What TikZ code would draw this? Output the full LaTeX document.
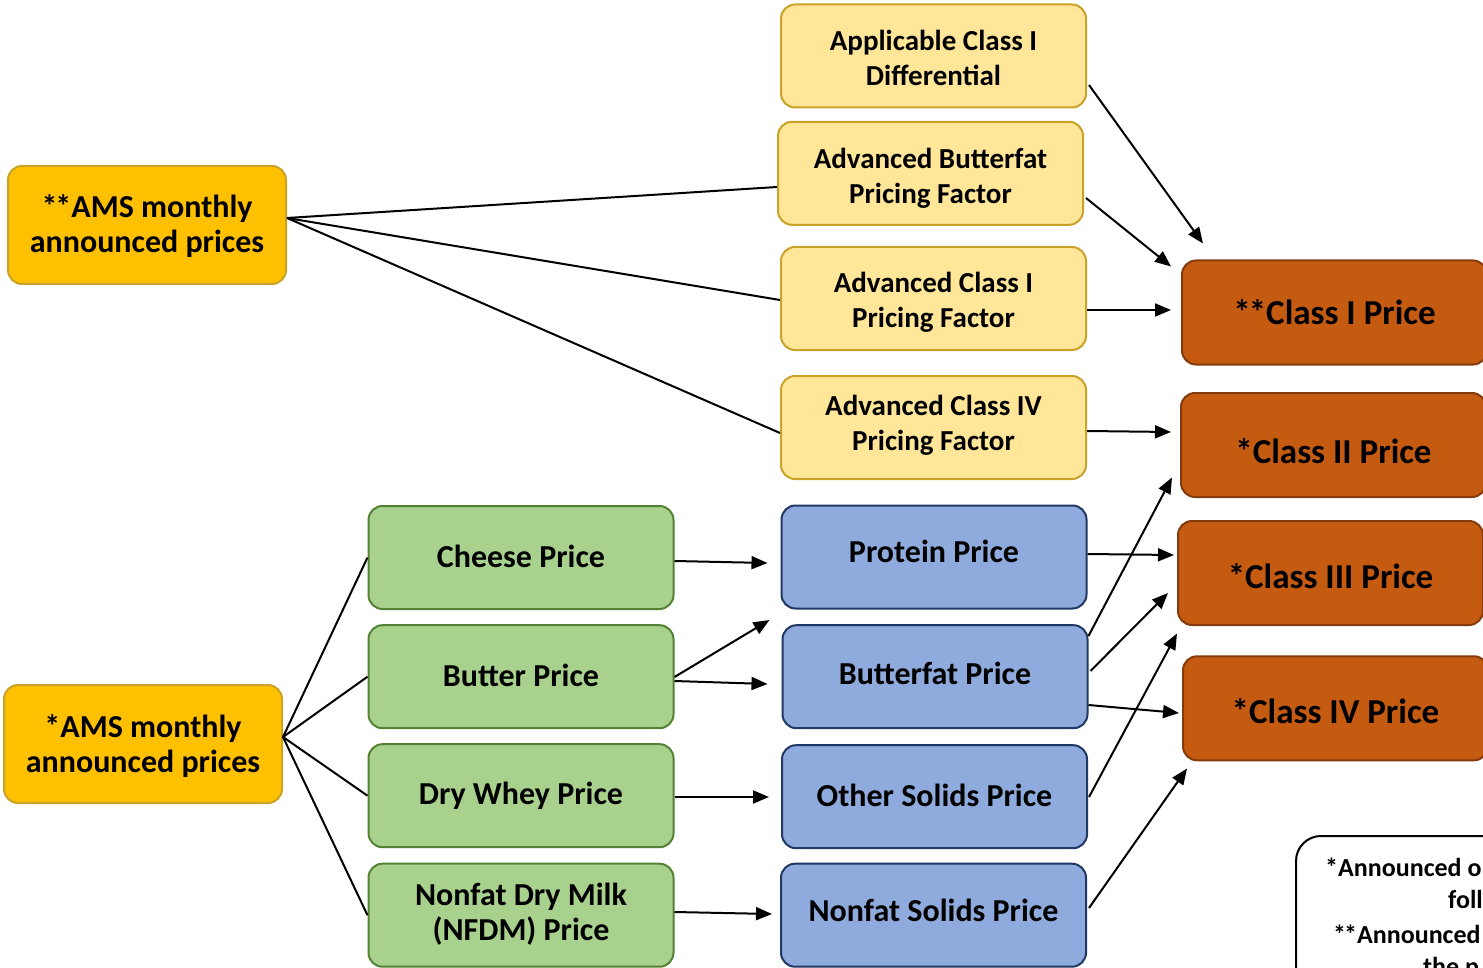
\documentclass[tikz,border=0pt]{standalone}
\usepackage{fontspec}
\setmainfont{Carlito}
\usetikzlibrary{arrows.meta,calc}
\definecolor{amsfill}{HTML}{FFC000}
\definecolor{amsdraw}{HTML}{C9A227}
\definecolor{yfill}{HTML}{FFE699}
\definecolor{ydraw}{HTML}{C9A227}
\definecolor{gfill}{HTML}{A9D18E}
\definecolor{gdraw}{HTML}{548235}
\definecolor{bfill}{HTML}{8FAADC}
\definecolor{bdraw}{HTML}{203864}
\definecolor{ofill}{HTML}{C55A11}
\definecolor{odraw}{HTML}{843C0C}
% #1 = height of first line (controls vertical placement), #2 = text
\newcommand\tx[2]{\rule{0pt}{#1pt}#2\rule[-20pt]{0pt}{20pt}}
\newcommand\dast{*\kern-2pt*}
\tikzset{
  box/.style={draw, rounded corners=14pt, line width=2pt, minimum width=305pt,
    minimum height=103pt, align=center, inner sep=0pt,
    font=\bfseries\fontsize{29}{35}\selectfont},
  amsbox/.style={box, fill=amsfill, draw=amsdraw, minimum width=278pt, minimum height=118pt,
    font=\bfseries\fontsize{32}{35}\selectfont},
  ybox/.style={box, fill=yfill, draw=ydraw},
  gbox/.style={box, fill=gfill, draw=gdraw, font=\bfseries\fontsize{32}{35}\selectfont},
  bbox/.style={box, fill=bfill, draw=bdraw, font=\bfseries\fontsize{32}{35}\selectfont},
  obox/.style={box, fill=ofill, draw=odraw, minimum height=104pt, font=\bfseries\fontsize{35}{38}\selectfont},
  ln/.style={line width=2pt},
  arr/.style={line width=2pt, -{Triangle[length=16pt,width=13pt]}},
  notetxt/.style={anchor=base west, inner sep=0pt, font=\bfseries\fontsize{26}{30}\selectfont}
}
\begin{document}
\begin{tikzpicture}[x=1pt,y=-1pt]
\useasboundingbox (0,0) rectangle (1483,968);
\clip (0,0) rectangle (1483,968);
\fill[white] (0,0) rectangle (1483,968);

\node[amsbox] (ams1) at (147,225) {\tx{41}{\dast AMS monthly\\announced prices}};
\node[amsbox] (ams2) at (143,744) {\tx{41}{*AMS monthly\\announced prices}};

\node[ybox] (app) at (933.5,56) {\tx{45}{Applicable Class I\\Differential}};
\node[ybox] (abf) at (930.5,173.3) {\tx{46}{Advanced Butterfat\\Pricing Factor}};
\node[ybox] (aci) at (933.5,298.5) {\tx{42}{Advanced Class I\\Pricing Factor}};
\node[ybox] (aciv) at (933.5,427.5) {\tx{31}{Advanced Class IV\\Pricing Factor}};

\node[gbox] (cheese) at (521,557.5) {\tx{39}{Cheese Price}};
\node[gbox] (butter) at (521,676.7) {\tx{39}{Butter Price}};
\node[gbox] (whey) at (521,795.7) {\tx{38}{Dry Whey Price}};
\node[gbox] (nfdm) at (521,915.2) {\tx{35}{Nonfat Dry Milk\\(NFDM) Price}};

\node[bbox] (prot) at (934,557) {\tx{30}{Protein Price}};
\node[bbox] (bfat) at (935,676.7) {\tx{36}{Butterfat Price}};
\node[bbox] (oth) at (934.5,796.7) {\tx{39}{Other Solids Price}};
\node[bbox] (nfs) at (933.5,915.2) {\tx{32}{Nonfat Solids Price}};

\node[obox] (c1) at (1334.5,312.5) {\tx{44}{\dast Class I Price}};
\node[obox] (c2) at (1333.5,445) {\tx{56}{*Class II Price}};
\node[obox] (c3) at (1330.5,573) {\tx{50}{*Class III Price}};
\node[obox] (c4) at (1335.5,708.3) {\tx{51}{*Class IV Price}};

\node[draw, line width=2pt, rounded corners=25pt, fill=white, minimum width=400pt,
  minimum height=220pt, anchor=north west] (note) at (1295,835) {};
\node[notetxt] (n1) at (1325,876) {*Announced o};
\node[notetxt] (n2) at (1448,908) {foll};
\node[notetxt] (n3) at (1333,943) {\dast Announced};
\node[notetxt] (n4) at (1423,975) {the p};

% AMS 1 lines
\draw[ln] ($(ams1.east)+(0,-7)$) -- ($(abf.west)+(0,13.7)$);
\draw[ln] ($(ams1.east)+(0,-7)$) -- ($(aci.west)+(0,1.5)$);
\draw[ln] ($(ams1.east)+(0,-7)$) -- ($(aciv.west)+(0,5.5)$);
% AMS 2 lines
\draw[ln] ($(ams2.east)+(0,-7)$) -- (cheese.west);
\draw[ln] ($(ams2.east)+(0,-7)$) -- (butter.west);
\draw[ln] ($(ams2.east)+(0,-7)$) -- (whey.west);
\draw[ln] ($(ams2.east)+(0,-7)$) -- (nfdm.west);

% to Class I / II
\draw[arr] ($(app.east)+(2,29)$) -- ($(c1.north west)+(22,-16)$);
\draw[arr] ($(abf.east)+(2,24.7)$) -- ($(c1.north west)+(-10,7)$);
\draw[arr] ($(aci.east)+(0,11.5)$) -- ($(c1.west)+(-10,-2.5)$);
\draw[arr] ($(aciv.east)+(0,3.5)$) -- ($(c2.west)+(-9,-13)$);

% green to blue
\draw[arr] ($(cheese.east)+(0,3.5)$) -- ($(prot.west)+(-13,6)$);
\draw[arr] ($(butter.east)+(0,0.3)$) -- ($(prot.south west)+(-11,10.5)$);
\draw[arr] ($(butter.east)+(0,4.3)$) -- ($(bfat.west)+(-14,7.3)$);
\draw[arr] ($(whey.east)+(0,1.3)$) -- ($(oth.west)+(-12,0.3)$);
\draw[arr] ($(nfdm.east)+(0,-3.2)$) -- ($(nfs.west)+(-8,-1.2)$);

% blue to classes
\draw[arr] ($(prot.east)+(0,-3)$) -- ($(c3.west)+(-3,-18)$);
\draw[arr] ($(bfat.east)+(0,-40.7)$) -- ($(c2.south west)+(-8,-20.5)$);
\draw[arr] ($(bfat.east)+(2,-5.7)$) -- ($(c3.west)+(-9,20)$);
\draw[arr] ($(bfat.east)+(0,28.3)$) -- ($(c4.west)+(-3,4.7)$);
\draw[arr] ($(oth.east)+(1,0.3)$) -- ($(c3.south west)+(0,7.5)$);
\draw[arr] ($(nfs.east)+(2,-7.2)$) -- ($(c4.south west)+(5,7.2)$);
\end{tikzpicture}
\end{document}
